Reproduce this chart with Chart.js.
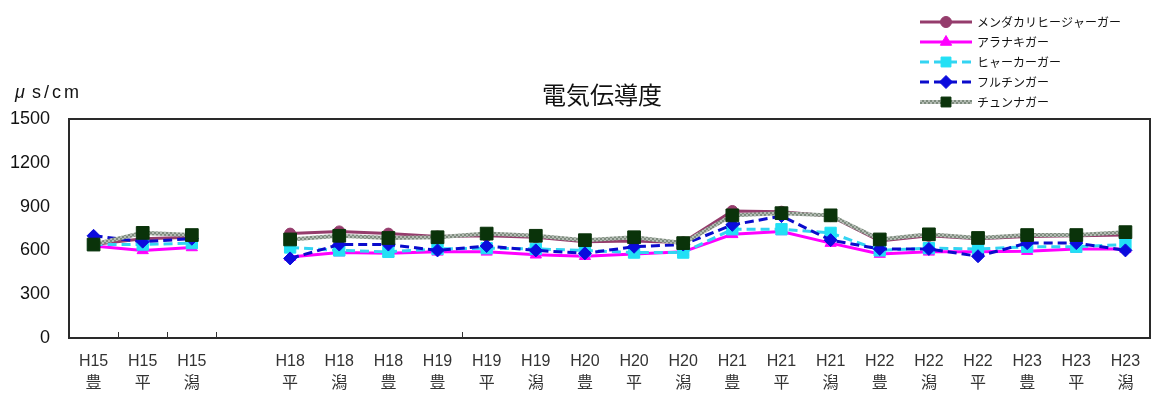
<!DOCTYPE html>
<html>
<head>
<meta charset="utf-8">
<script src="https://cdn.jsdelivr.net/npm/chart.js@4/dist/chart.umd.min.js"></script>
<style>
  html, body { margin: 0; padding: 0; background: #fff; }
  canvas { display: block; }
</style>
</head>
<body>
<canvas id="chart" width="1160" height="396"></canvas>
<script>
// Survey periods (year + site); the blank slot separates H15 from H18.
const yearLabels = ['H15','H15','H15','','H18','H18','H18','H19','H19','H19','H20','H20','H20','H21','H21','H21','H22','H22','H22','H23','H23','H23'];
const siteLabels = ['豊','平','潟','','平','潟','豊','豊','平','潟','豊','平','潟','豊','平','潟','豊','潟','平','豊','平','潟'];

const seriesNames = ['メンダカリヒージャーガー','アラナキガー','ヒャーカーガー','フルチンガー','チュンナガー'];

// Electric conductivity (μs/cm)
const mendakari = [640, 680, 690, null, 715, 730, 715, 695, 700, 690, 660, 665, 655, 870, 865, 835, 665, 700, 680, 695, 700, 705];
const aranaki   = [630, 600, 620, null, 555, 585, 580, 590, 590, 570, 560, 575, 590, 710, 730, 650, 575, 590, 590, 595, 610, 610];
const hyaka     = [640, 640, 650, null, 620, 600, 590, 610, 615, 610, 600, 585, 585, 745, 745, 720, 600, 615, 610, 625, 625, 640];
const furuchin  = [700, 660, 680, null, 545, 640, 640, 600, 630, 600, 580, 625, 640, 775, 835, 670, 610, 610, 560, 650, 650, 600];
const chunna    = [640, 720, 705, null, 675, 700, 685, 690, 715, 700, 670, 690, 650, 840, 855, 840, 675, 710, 685, 705, 705, 725];

const yTicks = [0, 300, 600, 900, 1200, 1500];

// Category boundaries that carry a small tick mark on the bottom axis
const tickBoundaries = [1, 2, 3, 8];

// Grey checkered texture for the チュンナガー line
function makeChecker() {
  const c = document.createElement('canvas');
  c.width = 4; c.height = 4;
  const g = c.getContext('2d');
  g.fillStyle = '#7E8C7E';
  g.fillRect(0, 0, 4, 4);
  g.fillStyle = '#B4BCB4';
  g.fillRect(0, 0, 2, 2);
  g.fillRect(2, 2, 2, 2);
  return g.createPattern(c, 'repeat');
}
const ctx = document.getElementById('chart').getContext('2d');
const checker = makeChecker();

const seriesData = [mendakari, aranaki, hyaka, furuchin, chunna];
const seriesStyle = [
  { line: '#953C6C', point: '#953C6C', shape: 'circle',   radius: 5.5, dash: [],     width: 3 },
  { line: '#FF00FF', point: '#FF00FF', shape: 'triangle', radius: 6.5, dash: [],     width: 3 },
  { line: '#33D4F2', point: '#22E0F5', shape: 'rect',     radius: 8,   dash: [9, 5], width: 3 },
  { line: '#0B0BCC', point: '#0B0BDD', shape: 'rectRot',  radius: 6.5, dash: [9, 5], width: 3 },
  { line: checker,   point: '#0A330A', shape: 'rect',     radius: 9,   dash: [],     width: 4 }
];

const datasets = seriesNames.map((name, i) => ({
  label: name,
  data: seriesData[i],
  borderColor: seriesStyle[i].line,
  borderWidth: seriesStyle[i].width,
  borderDash: seriesStyle[i].dash,
  backgroundColor: seriesStyle[i].point,
  pointStyle: seriesStyle[i].shape,
  pointRadius: seriesStyle[i].radius,
  pointBackgroundColor: seriesStyle[i].point,
  pointBorderColor: seriesStyle[i].point,
  pointBorderWidth: 1,
  tension: 0,
  spanGaps: false,
  order: seriesNames.length - 1 - i
}));

const CJK = '"Liberation Sans", "Noto Sans CJK JP", sans-serif';

const frameAndText = {
  id: 'frameAndText',
  beforeDatasetsDraw(chart) {
    const { ctx, chartArea: a } = chart;
    ctx.save();
    ctx.strokeStyle = '#2a2a2a';
    ctx.lineWidth = 2;
    ctx.strokeRect(a.left, a.top, a.right - a.left, a.bottom - a.top);
    // inward tick marks on the bottom axis
    const x = chart.scales.x;
    const w = (x.right - x.left) / yearLabels.length;
    ctx.lineWidth = 1;
    ctx.strokeStyle = '#333';
    tickBoundaries.forEach(b => {
      const px = Math.round(x.left + b * w) + 0.5;
      ctx.beginPath();
      ctx.moveTo(px, a.bottom);
      ctx.lineTo(px, a.bottom - 6);
      ctx.stroke();
    });
    ctx.restore();
  },
  afterDraw(chart) {
    const { ctx } = chart;
    ctx.save();
    // title
    ctx.fillStyle = '#111';
    ctx.font = '24px "Noto Sans CJK JP", sans-serif';
    ctx.textAlign = 'center';
    ctx.textBaseline = 'middle';
    ctx.fillText('電気伝導度', 602, 95);
    // unit
    ctx.textAlign = 'left';
    ctx.font = 'italic 18px ' + CJK;
    ctx.fillText('μ', 15, 93);
    ctx.font = '18px ' + CJK;
    ctx.letterSpacing = '3px';
    ctx.fillText('s/cm', 32, 93);
    ctx.letterSpacing = '0px';
    // legend
    ctx.font = '12px "Noto Sans CJK JP", sans-serif';
    chart.data.datasets.forEach((ds, i) => {
      const y = 22 + i * 20;
      ctx.save();
      ctx.strokeStyle = ds.borderColor;
      ctx.lineWidth = ds.borderWidth;
      ctx.setLineDash(ds.borderDash);
      ctx.beginPath();
      ctx.moveTo(920, y);
      ctx.lineTo(972, y);
      ctx.stroke();
      ctx.setLineDash([]);
      ctx.fillStyle = ds.pointBackgroundColor;
      ctx.strokeStyle = ds.pointBorderColor;
      ctx.lineWidth = 1;
      Chart.helpers.drawPoint(ctx, {
        pointStyle: ds.pointStyle,
        radius: Math.min(ds.pointRadius, 7),
        rotation: 0,
        borderWidth: 1
      }, 946, y);
      ctx.restore();
      ctx.fillStyle = '#111';
      ctx.textAlign = 'left';
      ctx.textBaseline = 'middle';
      ctx.fillText(ds.label, 977, y);
    });
    ctx.restore();
  }
};

new Chart(ctx, {
  type: 'line',
  data: {
    labels: yearLabels.map((y, i) => (y ? [y, siteLabels[i]] : '')),
    datasets
  },
  options: {
    responsive: false,
    animation: false,
    events: [],
    layout: { padding: { top: 119, right: 3, bottom: 0, left: 0 } },
    plugins: {
      legend: { display: false },
      title: { display: false },
      tooltip: { enabled: false }
    },
    scales: {
      x: {
        type: 'category',
        offset: true,
        grid: { display: false, drawTicks: false },
        border: { display: false },
        ticks: {
          autoSkip: false,
          maxRotation: 0,
          minRotation: 0,
          padding: 12,
          color: '#333',
          font: { family: CJK, size: 16, lineHeight: 1.4 }
        },
        afterFit(scale) { scale.height = 58; }
      },
      y: {
        min: 0,
        max: 1500,
        grid: { display: false, drawTicks: false },
        border: { display: false },
        afterBuildTicks(scale) { scale.ticks = yTicks.map(v => ({ value: v })); },
        ticks: {
          padding: 19,
          color: '#111',
          font: { family: CJK, size: 18 },
          callback: v => String(v)
        },
        afterFit(scale) { scale.width = 69; }
      }
    }
  },
  plugins: [frameAndText]
});
</script>
</body>
</html>
